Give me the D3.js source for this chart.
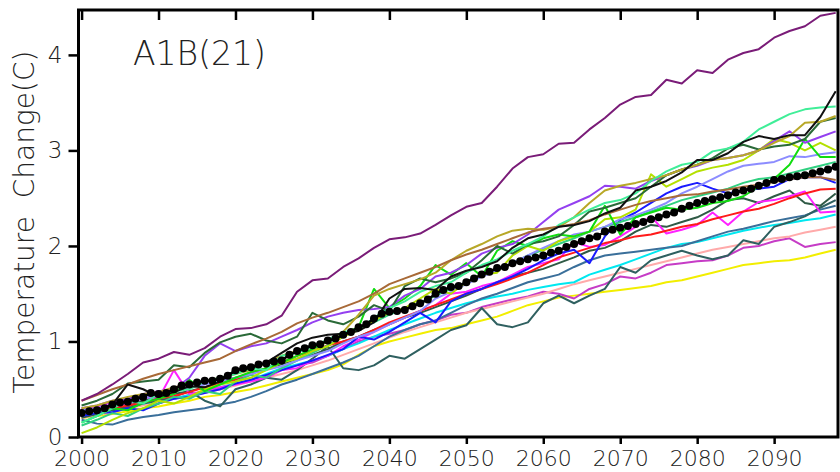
<!DOCTYPE html>
<html>
<head>
<meta charset="utf-8">
<script src="https://cdn.jsdelivr.net/npm/d3@7"></script>
<style>
  body { margin: 0; background: #fff; }
  text { font-family: "DejaVu Sans", sans-serif; font-weight: 200; fill: #222; }
</style>
</head>
<body>
<svg id="board" width="840" height="472"></svg>
<script>
// years for the model runs (every 2 years) and for the ensemble mean (every year)
let modelYears = [2000, 2002, 2004, 2006, 2008, 2010, 2012, 2014, 2016, 2018,
  2020, 2022, 2024, 2026, 2028, 2030, 2032, 2034, 2036, 2038,
  2040, 2042, 2044, 2046, 2048, 2050, 2052, 2054, 2056, 2058,
  2060, 2062, 2064, 2066, 2068, 2070, 2072, 2074, 2076, 2078,
  2080, 2082, 2084, 2086, 2088, 2090, 2092, 2094, 2096, 2098]

let meanValues = [0.25, 0.27, 0.28, 0.30, 0.34, 0.36, 0.37, 0.40, 0.42, 0.46,
  0.45, 0.46, 0.50, 0.54, 0.55, 0.57, 0.59, 0.59, 0.61, 0.64,
  0.70, 0.72, 0.73, 0.76, 0.77, 0.79, 0.80, 0.86, 0.90, 0.93,
  0.96, 0.97, 1.01, 1.03, 1.07, 1.10, 1.15, 1.18, 1.24, 1.29,
  1.31, 1.32, 1.33, 1.37, 1.40, 1.44, 1.50, 1.54, 1.57, 1.58,
  1.62, 1.66, 1.70, 1.73, 1.77, 1.78, 1.82, 1.84, 1.86, 1.88,
  1.90, 1.93, 1.95, 1.99, 2.02, 2.05, 2.08, 2.10, 2.15, 2.17,
  2.19, 2.21, 2.23, 2.25, 2.28, 2.30, 2.33, 2.35, 2.39, 2.42,
  2.45, 2.47, 2.49, 2.51, 2.53, 2.56, 2.58, 2.60, 2.63, 2.66,
  2.69, 2.70, 2.72, 2.73, 2.74, 2.76, 2.78, 2.80, 2.83]
let meanStart = 2000

// the 21 model runs
let purpleRun = [0.38, 0.45, 0.55, 0.66, 0.78, 0.82, 0.89, 0.86, 0.93, 1.05,
  1.13, 1.14, 1.18, 1.27, 1.52, 1.64, 1.66, 1.78, 1.87, 1.98,
  2.07, 2.09, 2.13, 2.22, 2.32, 2.41, 2.45, 2.62, 2.81, 2.93,
  2.96, 3.07, 3.08, 3.22, 3.34, 3.48, 3.56, 3.58, 3.74, 3.70,
  3.84, 3.81, 3.95, 4.02, 4.06, 4.18, 4.25, 4.30, 4.41, 4.44]
let brownRun = [0.38, 0.44, 0.50, 0.55, 0.61, 0.66, 0.70, 0.74, 0.78, 0.82,
  0.90, 0.97, 1.03, 1.10, 1.19, 1.25, 1.30, 1.36, 1.42, 1.50,
  1.60, 1.66, 1.72, 1.78, 1.85, 1.91, 1.96, 2.02, 2.08, 2.14,
  2.18, 2.20, 2.23, 2.27, 2.33, 2.38, 2.43, 2.47, 2.50, 2.53,
  2.54, 2.57, 2.59, 2.62, 2.64, 2.67, 2.70, 2.72, 2.72, 2.69]
let blackRun = [0.26, 0.28, 0.34, 0.55, 0.50, 0.42, 0.47, 0.53, 0.52, 0.58,
  0.70, 0.72, 0.78, 0.88, 0.98, 1.04, 1.07, 1.08, 1.11, 1.20,
  1.45, 1.55, 1.56, 1.54, 1.68, 1.74, 1.78, 1.84, 1.98, 2.08,
  2.12, 2.20, 2.22, 2.26, 2.34, 2.40, 2.58, 2.62, 2.68, 2.77,
  2.90, 2.90, 2.97, 3.09, 3.15, 3.12, 3.16, 3.16, 3.35, 3.62]
let springRun = [0.15, 0.22, 0.30, 0.38, 0.35, 0.45, 0.48, 0.50, 0.58, 0.62,
  0.66, 0.72, 0.70, 0.85, 0.88, 0.95, 1.02, 1.10, 1.12, 1.25,
  1.35, 1.42, 1.52, 1.58, 1.62, 1.72, 1.80, 1.86, 1.95, 2.02,
  2.10, 2.22, 2.30, 2.38, 2.45, 2.48, 2.55, 2.68, 2.78, 2.85,
  2.88, 2.99, 3.02, 3.09, 3.22, 3.30, 3.38, 3.43, 3.45, 3.46]
let oliveRun = [0.30, 0.33, 0.38, 0.42, 0.45, 0.47, 0.52, 0.55, 0.58, 0.62,
  0.66, 0.70, 0.78, 0.85, 0.90, 0.95, 1.00, 1.10, 1.28, 1.48,
  1.55, 1.60, 1.65, 1.72, 1.85, 1.95, 2.02, 2.10, 2.16, 2.18,
  2.17, 2.20, 2.30, 2.45, 2.58, 2.63, 2.66, 2.70, 2.74, 2.80,
  2.85, 2.90, 2.92, 2.95, 3.00, 3.08, 3.15, 3.29, 3.30, 3.36]
let darkGreenRun = [0.33, 0.38, 0.45, 0.56, 0.58, 0.60, 0.75, 0.73, 0.88, 0.99,
  1.05, 1.08, 1.01, 0.98, 1.05, 1.30, 1.22, 1.18, 1.26, 1.38,
  1.32, 1.58, 1.66, 1.62, 1.66, 1.72, 1.85, 2.00, 1.92, 2.02,
  2.05, 2.10, 2.22, 2.36, 2.40, 2.45, 2.50, 2.62, 2.74, 2.80,
  2.85, 2.92, 3.02, 3.06, 3.01, 3.04, 3.06, 3.12, 3.30, 3.34]
let violetRun = [0.30, 0.33, 0.38, 0.40, 0.45, 0.48, 0.50, 0.62, 0.85, 0.98,
  0.90, 0.95, 0.98, 1.05, 1.12, 1.20, 1.26, 1.30, 1.33, 1.34,
  1.36, 1.48, 1.55, 1.68, 1.72, 1.80, 1.92, 1.98, 2.02, 2.12,
  2.25, 2.38, 2.45, 2.52, 2.63, 2.62, 2.60, 2.68, 2.74, 2.80,
  2.84, 2.90, 2.92, 2.95, 3.00, 3.10, 3.20, 3.08, 3.14, 3.20]
let greenRun = [0.15, 0.22, 0.30, 0.28, 0.36, 0.40, 0.45, 0.60, 0.48, 0.55,
  0.62, 0.68, 0.72, 0.78, 0.85, 0.92, 1.00, 1.08, 1.15, 1.55,
  1.35, 1.45, 1.58, 1.80, 1.70, 1.82, 1.68, 1.95, 2.05, 2.00,
  2.08, 2.12, 2.10, 2.15, 2.42, 2.12, 2.30, 2.35, 2.40, 2.38,
  2.40, 2.45, 2.47, 2.52, 2.62, 2.70, 2.85, 3.12, 2.93, 2.93]
let yellowGreenRun = [0.04, 0.10, 0.18, 0.25, 0.30, 0.38, 0.35, 0.42, 0.50, 0.55,
  0.58, 0.62, 0.70, 0.78, 0.82, 0.90, 0.95, 1.05, 1.12, 1.22,
  1.30, 1.35, 1.45, 1.55, 1.50, 1.62, 1.70, 1.72, 1.90, 2.00,
  1.95, 2.05, 2.10, 2.15, 2.28, 2.30, 2.38, 2.75, 2.62, 2.70,
  2.78, 2.82, 2.85, 2.90, 3.00, 3.12, 3.08, 3.00, 3.08, 3.00]
let slateBlueRun = [0.28, 0.30, 0.34, 0.38, 0.40, 0.45, 0.47, 0.52, 0.55, 0.58,
  0.62, 0.66, 0.70, 0.74, 0.80, 0.85, 0.90, 0.98, 1.05, 1.10,
  1.18, 1.25, 1.32, 1.45, 1.52, 1.60, 1.68, 1.74, 1.82, 1.90,
  1.98, 2.05, 2.12, 2.15, 2.20, 2.28, 2.32, 2.38, 2.45, 2.55,
  2.62, 2.70, 2.78, 2.84, 2.86, 2.88, 2.94, 2.93, 2.96, 2.98]
let blueRun = [0.22, 0.25, 0.26, 0.30, 0.28, 0.35, 0.40, 0.42, 0.46, 0.50,
  0.56, 0.60, 0.65, 0.70, 0.75, 0.80, 0.86, 0.92, 1.05, 1.02,
  1.10, 1.20, 1.30, 1.20, 1.42, 1.50, 1.55, 1.62, 1.68, 1.76,
  1.85, 1.92, 1.96, 1.82, 2.10, 2.27, 2.35, 2.45, 2.55, 2.62,
  2.66, 2.60, 2.55, 2.58, 2.60, 2.62, 2.70, 2.72, 2.72, 2.66]
let redRun = [0.25, 0.28, 0.30, 0.33, 0.36, 0.40, 0.43, 0.47, 0.52, 0.56,
  0.60, 0.66, 0.72, 0.78, 0.85, 0.90, 0.96, 1.00, 1.05, 1.12,
  1.20, 1.26, 1.32, 1.38, 1.44, 1.50, 1.55, 1.60, 1.66, 1.72,
  1.80, 1.88, 1.93, 1.98, 2.03, 2.06, 2.10, 2.12, 2.16, 2.20,
  2.23, 2.28, 2.32, 2.36, 2.39, 2.44, 2.50, 2.55, 2.59, 2.60]
let slateRun = [0.20, 0.24, 0.30, 0.32, 0.38, 0.42, 0.45, 0.48, 0.52, 0.58,
  0.62, 0.66, 0.72, 0.76, 0.82, 0.86, 0.92, 1.00, 1.05, 1.12,
  1.18, 1.25, 1.30, 1.36, 1.42, 1.48, 1.55, 1.62, 1.68, 1.72,
  1.76, 1.82, 1.88, 1.95, 1.98, 2.05, 2.15, 2.22, 2.20, 2.25,
  2.30, 2.38, 2.48, 2.50, 2.45, 2.52, 2.58, 2.45, 2.42, 2.55]
let magentaRun = [0.30, 0.32, 0.36, 0.38, 0.42, 0.40, 0.70, 0.45, 0.48, 0.52,
  0.55, 0.58, 0.62, 0.70, 0.72, 0.80, 0.85, 0.95, 1.02, 1.10,
  1.18, 1.25, 1.32, 1.38, 1.50, 1.52, 1.58, 1.62, 1.70, 1.78,
  1.82, 1.86, 2.04, 1.99, 2.01, 2.10, 2.20, 2.31, 2.13, 2.17,
  2.22, 2.35, 2.22, 2.36, 2.46, 2.48, 2.52, 2.57, 2.35, 2.36]
let steelRun = [0.18, 0.14, 0.13, 0.18, 0.21, 0.23, 0.26, 0.28, 0.30, 0.34,
  0.37, 0.42, 0.48, 0.55, 0.60, 0.66, 0.72, 0.78, 0.85, 0.95,
  1.05, 1.12, 1.18, 1.22, 1.30, 1.38, 1.45, 1.50, 1.56, 1.62,
  1.66, 1.70, 1.78, 1.85, 1.90, 1.92, 1.94, 1.96, 1.98, 2.00,
  2.05, 2.10, 2.15, 2.18, 2.22, 2.26, 2.29, 2.32, 2.38, 2.42]
let cyanRun = [0.22, 0.25, 0.28, 0.32, 0.35, 0.38, 0.40, 0.44, 0.48, 0.52,
  0.56, 0.60, 0.66, 0.72, 0.76, 0.80, 0.85, 0.92, 0.98, 1.05,
  1.12, 1.18, 1.24, 1.30, 1.35, 1.40, 1.44, 1.47, 1.50, 1.54,
  1.57, 1.60, 1.62, 1.70, 1.75, 1.80, 1.86, 1.92, 1.98, 2.02,
  2.04, 2.08, 2.12, 2.16, 2.19, 2.22, 2.24, 2.27, 2.29, 2.33]
let pinkRun = [0.20, 0.23, 0.26, 0.30, 0.33, 0.36, 0.40, 0.43, 0.46, 0.50,
  0.54, 0.58, 0.62, 0.66, 0.70, 0.75, 0.80, 0.86, 0.92, 0.98,
  1.04, 1.10, 1.15, 1.20, 1.25, 1.30, 1.34, 1.38, 1.42, 1.46,
  1.50, 1.55, 1.60, 1.64, 1.68, 1.72, 1.76, 1.80, 1.84, 1.88,
  1.92, 1.96, 1.99, 2.02, 2.05, 2.08, 2.10, 2.14, 2.17, 2.20]
let orchidRun = [0.28, 0.30, 0.32, 0.35, 0.38, 0.42, 0.40, 0.44, 0.48, 0.50,
  0.55, 0.60, 0.64, 0.70, 0.75, 0.78, 0.85, 0.92, 1.00, 1.05,
  1.08, 1.12, 1.18, 1.22, 1.28, 1.30, 1.36, 1.40, 1.44, 1.47,
  1.52, 1.50, 1.45, 1.55, 1.60, 1.68, 1.66, 1.72, 1.80, 1.82,
  1.84, 1.85, 1.90, 1.98, 2.00, 2.05, 2.08, 1.99, 2.02, 2.04]
let yellowRun = [0.20, 0.22, 0.24, 0.27, 0.30, 0.32, 0.35, 0.38, 0.42, 0.44,
  0.47, 0.50, 0.54, 0.58, 0.62, 0.66, 0.70, 0.76, 0.86, 0.95,
  1.00, 1.04, 1.08, 1.12, 1.14, 1.18, 1.22, 1.26, 1.32, 1.38,
  1.42, 1.46, 1.48, 1.50, 1.52, 1.54, 1.56, 1.58, 1.62, 1.64,
  1.68, 1.72, 1.76, 1.80, 1.82, 1.84, 1.85, 1.88, 1.92, 1.96]
let tealRun = [0.22, 0.25, 0.28, 0.30, 0.35, 0.38, 0.42, 0.48, 0.38, 0.32,
  0.50, 0.55, 0.62, 0.60, 0.70, 0.82, 0.95, 0.72, 0.70, 0.75,
  0.85, 0.82, 0.92, 1.02, 1.12, 1.17, 1.35, 1.18, 1.15, 1.20,
  1.40, 1.48, 1.40, 1.48, 1.55, 1.78, 1.72, 1.85, 1.90, 1.95,
  1.90, 1.86, 1.90, 2.06, 2.02, 2.20, 2.25, 2.31, 2.40, 2.48]
let seaGreenRun = [0.12, 0.18, 0.25, 0.22, 0.30, 0.35, 0.42, 0.40, 0.48, 0.45,
  0.58, 0.65, 0.62, 0.72, 0.80, 0.88, 0.96, 1.05, 1.15, 1.20,
  1.28, 1.35, 1.40, 1.48, 1.55, 1.62, 1.70, 1.75, 1.82, 1.90,
  1.96, 2.02, 2.08, 2.15, 2.20, 2.25, 2.30, 2.36, 2.42, 2.48,
  2.52, 2.56, 2.60, 2.66, 2.70, 2.72, 2.76, 2.80, 2.84, 2.88]

let runs = [yellowRun, orchidRun, pinkRun, cyanRun, steelRun, tealRun, slateRun,
  magentaRun, redRun, blueRun, seaGreenRun, slateBlueRun, yellowGreenRun, greenRun,
  violetRun, darkGreenRun, oliveRun, springRun, brownRun, blackRun, purpleRun]
let runColors = ['#f2ee00', '#c63cc6', '#ffaaaa', '#00e8f0', '#3a6f9a', '#2f6060', '#2f5a46',
  '#ff22ff', '#ff1a1a', '#1a1aff', '#30d080', '#8c8cff', '#b4e000', '#10dd10',
  '#9440f0', '#2a6a38', '#b8a828', '#40ee98', '#a86a38', '#111111', '#7a1c78']

let xTicks = [2000, 2010, 2020, 2030, 2040, 2050, 2060, 2070, 2080, 2090]
let yTicks = [0, 1, 2, 3, 4]

let board = d3.select('#board')
let plotLeft = 78.5, plotRight = 838, plotTop = 10, plotBottom = 437

let x = d3.scaleLinear().domain([1999.6, 2098.3]).range([plotLeft, plotRight])
let y = d3.scaleLinear().domain([0, 4.47]).range([plotBottom, plotTop])

let clip = board.append('clipPath').attr('id', 'plot')
clip.append('rect').attr('x', plotLeft).attr('y', plotTop)
  .attr('width', plotRight - plotLeft).attr('height', plotBottom - plotTop)

let plot = board.append('g').attr('clip-path', 'url(#plot)')

let line = d3.line()
  .x((d, i) => x(modelYears[i]))
  .y(d => y(d))

plot.selectAll('path.run')
  .data(runs)
  .enter()
  .append('path')
  .attr('class', 'run')
  .attr('d', line)
  .attr('fill', 'none')
  .attr('stroke', (d, i) => runColors[i])
  .attr('stroke-width', 2)
  .attr('stroke-linejoin', 'round')

// ensemble mean with a dot for each year
let meanLine = d3.line()
  .x((d, i) => x(meanStart + i))
  .y(d => y(d))

plot.append('path')
  .attr('d', meanLine(meanValues))
  .attr('fill', 'none')
  .attr('stroke', '#000')
  .attr('stroke-width', 2.5)

plot.selectAll('circle')
  .data(meanValues)
  .enter()
  .append('circle')
  .attr('cx', (d, i) => x(meanStart + i))
  .attr('cy', d => y(d))
  .attr('r', 4)
  .attr('fill', '#000')

// axes
let bottomAxis = d3.axisBottom(x).tickValues(xTicks).tickFormat(d3.format('d')).tickSize(7)
let topAxis = d3.axisTop(x).tickValues(xTicks).tickFormat('').tickSize(-10)
let leftAxis = d3.axisLeft(y).tickValues(yTicks).tickFormat(d3.format('d')).tickSize(10).tickPadding(6)

let gx = board.append('g').attr('transform', `translate(0,${plotBottom})`).call(bottomAxis)
let gt = board.append('g').attr('transform', `translate(0,${plotTop})`).call(topAxis)
let gy = board.append('g').attr('transform', `translate(${plotLeft},0)`).call(leftAxis)

;[gx, gt, gy].forEach(g => {
  g.select('.domain').remove()
  g.selectAll('line').attr('stroke', '#000').attr('stroke-width', 2.5)
  g.selectAll('text').style('font-size', '22px').attr('fill', '#222')
})
gx.selectAll('text').attr('y', 29).attr('dy', 0)
gy.selectAll('text').style('font-size', '23px')

board.append('rect')
  .attr('x', plotLeft).attr('y', plotTop)
  .attr('width', plotRight - plotLeft).attr('height', plotBottom - plotTop)
  .attr('fill', 'none')
  .attr('stroke', '#000')
  .attr('stroke-width', 3)

board.append('text')
  .attr('x', 133).attr('y', 65)
  .style('font-size', '33px')
  .text('A1B(21)')

board.append('text')
  .attr('transform', 'translate(34,222) rotate(-90)')
  .attr('text-anchor', 'middle')
  .style('font-size', '28px')
  .attr('xml:space', 'preserve')
  .text('Temperature  Change(C)')
</script>
</body>
</html>
